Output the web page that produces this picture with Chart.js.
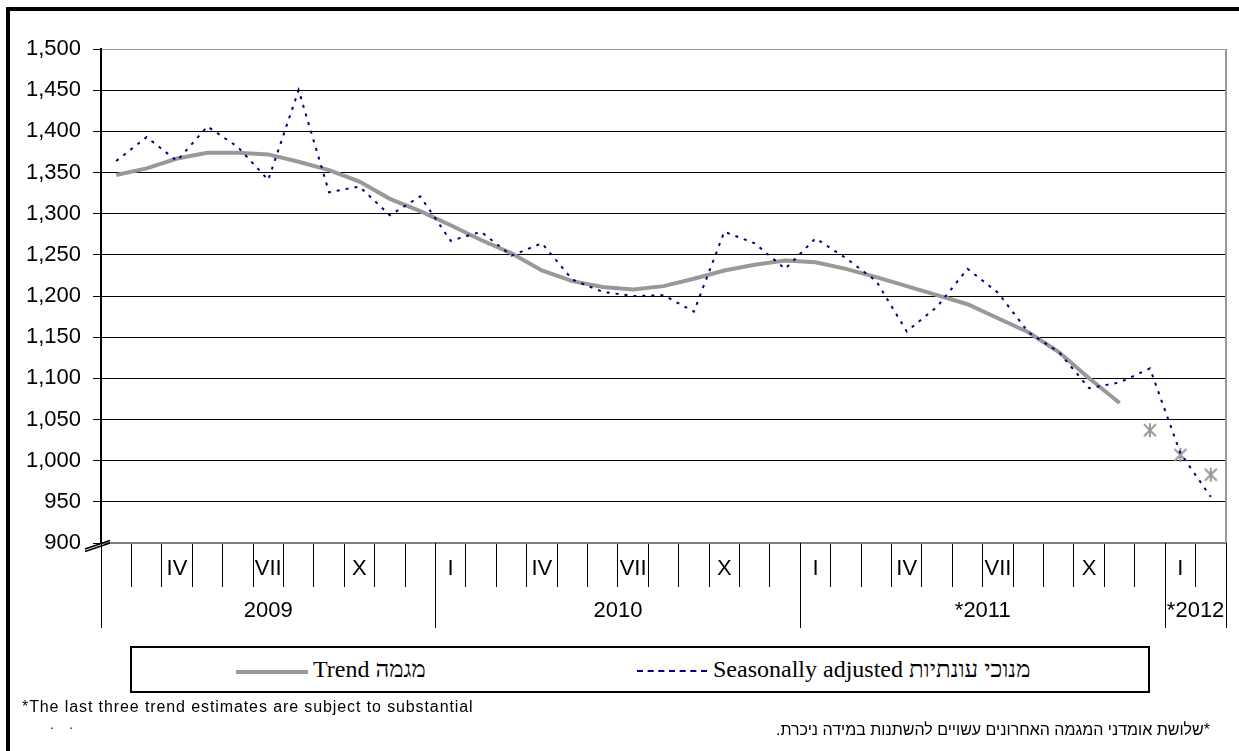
<!DOCTYPE html>
<html>
<head>
<meta charset="utf-8">
<script src="https://cdn.jsdelivr.net/npm/chart.js@4"></script>
<style>
  html, body { margin: 0; padding: 0; background: #fff; overflow: hidden; }
  #wrap { position: relative; width: 1239px; height: 751px; }
  #frame { position: absolute; left: 6px; top: 7px; width: 1300px; height: 800px; border: 4px solid #000; box-sizing: border-box; pointer-events: none; }
  #legend { position: absolute; left: 130px; top: 646px; width: 1020px; height: 47px; border: 2px solid #000; box-sizing: border-box; background: #fff; }
  #legend .sample { position: absolute; top: 22px; height: 0; }
  #legend .text { position: absolute; top: 0; line-height: 43px; font-family: "Liberation Serif", "Times New Roman", serif; font-size: 24px; color: #000; white-space: nowrap; }
  .note { position: absolute; font-family: "Liberation Sans", Arial, sans-serif; color: #000; white-space: nowrap; }
</style>
</head>
<body>
<div id="wrap">
  <canvas id="chart"></canvas>
  <div id="frame"></div>
  <div id="legend">
    <div class="sample" style="left:104px; width:72px; border-top:4px solid #999;"></div>
    <div class="text" style="left:181px;">Trend מגמה</div>
    <div class="sample" style="left:505px; width:70px; border-top:2px dashed #000080;"></div>
    <div class="text" style="left:581px;">Seasonally adjusted מנוכי עונתיות</div>
  </div>
  <div class="note" style="left:22px; top:698px; font-size:16px; letter-spacing:0.9px;">*The last three trend estimates are subject to substantial</div>
  <div class="note" style="left:50px; top:717px; font-size:13px; letter-spacing:6px;">. .</div>
  <div class="note" style="right:29px; top:721px; font-size:16px; direction:rtl;">*שלושת אומדני המגמה האחרונים עשויים להשתנות במידה ניכרת.</div>
</div>
<script>
// months shown on the axis: Feb 2009 .. Feb 2012
const months = [
  'II', 'III', 'IV', 'V', 'VI', 'VII', 'VIII', 'IX', 'X', 'XI', 'XII',
  'I', 'II', 'III', 'IV', 'V', 'VI', 'VII', 'VIII', 'IX', 'X', 'XI', 'XII',
  'I', 'II', 'III', 'IV', 'V', 'VI', 'VII', 'VIII', 'IX', 'X', 'XI', 'XII',
  'I', 'II',
];
const shownMonths = ['I', 'IV', 'VII', 'X'];
const yearLabels = ['2009', '2010', '*2011', '*2012'];
const yearMonths = [11, 12, 12, 2];

const seasonal = [
  1364, 1393, 1364, 1406, 1381, 1341, 1450, 1326, 1333, 1298, 1321,
  1267, 1278, 1249, 1264, 1220, 1205, 1200, 1201, 1181, 1278, 1264, 1233,
  1270, 1246, 1218, 1157, 1187, 1233, 1204, 1156, 1132, 1088, 1095, 1112,
  1009, 956,
];
const trend = [
  1347, 1355, 1367, 1374, 1374, 1372, 1363, 1353, 1339, 1318, 1303,
  1286, 1268, 1252, 1231, 1218, 1211, 1208, 1212, 1221, 1231, 1238, 1243,
  1241, 1233, 1223, 1212, 1201, 1190, 1173, 1156, 1132, 1100, 1070,
];
// last three trend estimates (Dec 2011 - Feb 2012), drawn as markers only
const trendEstimates = [1037, 1007, 983];

// asterisk marker: an X with a vertical stroke
const asterisk = document.createElement('canvas');
asterisk.width = 16;
asterisk.height = 16;
(() => {
  const c = asterisk.getContext('2d');
  c.strokeStyle = '#999';
  c.lineWidth = 2;
  c.beginPath();
  c.moveTo(2, 2); c.lineTo(14, 14);
  c.moveTo(14, 2); c.lineTo(2, 14);
  c.moveTo(8, 1); c.lineTo(8, 15);
  c.stroke();
})();

const axisExtras = {
  id: 'axisExtras',
  afterDraw(chart) {
    const { ctx, chartArea: area, scales: { x } } = chart;
    const step = (x.right - x.left) / months.length;
    ctx.save();

    // right border of the plot
    ctx.strokeStyle = '#999';
    ctx.lineWidth = 2;
    ctx.beginPath();
    ctx.moveTo(area.right, area.top);
    ctx.lineTo(area.right, area.bottom);
    ctx.stroke();

    // year separators and year labels
    ctx.strokeStyle = '#000';
    ctx.lineWidth = 1;
    ctx.fillStyle = '#000';
    ctx.font = '22px Arial, "Liberation Sans", sans-serif';
    ctx.textAlign = 'center';
    ctx.textBaseline = 'middle';
    let start = 0;
    const edges = [0];
    yearMonths.forEach((n, i) => {
      const left = x.getPixelForValue(start) - step / 2;
      const right = x.getPixelForValue(start + n - 1) + step / 2;
      ctx.fillText(yearLabels[i], (left + right) / 2, area.bottom + 68);
      start += n;
      edges.push(start);
    });
    edges.forEach((i) => {
      const px = Math.round(i === months.length ? x.right : x.getPixelForValue(i) - step / 2) + 0.5;
      ctx.beginPath();
      ctx.moveTo(px, area.bottom);
      ctx.lineTo(px, area.bottom + 85);
      ctx.stroke();
    });

    // axis break mark
    ctx.lineWidth = 1.5;
    ctx.beginPath();
    ctx.moveTo(area.left - 16, area.bottom + 6);
    ctx.lineTo(area.left + 9, area.bottom - 2.5);
    ctx.moveTo(area.left - 16, area.bottom + 8.5);
    ctx.lineTo(area.left + 9, area.bottom);
    ctx.stroke();
    ctx.restore();
  },
};

const ctx = document.getElementById('chart').getContext('2d');
new Chart(ctx, {
  type: 'line',
  data: {
    labels: months,
    datasets: [
      {
        label: 'Seasonally adjusted מנוכי עונתיות',
        data: seasonal,
        borderColor: '#000080',
        borderWidth: 2,
        borderDash: [3, 6],
        pointRadius: 0,
        tension: 0,
        fill: false,
      },
      {
        label: 'Trend מגמה',
        data: trend,
        borderColor: '#999',
        borderWidth: 4,
        pointRadius: 0,
        tension: 0,
        fill: false,
      },
      {
        label: 'Trend estimates',
        data: Array(trend.length).fill(null).concat(trendEstimates),
        showLine: false,
        pointStyle: asterisk,
        pointRadius: 8,
        borderColor: '#999',
      },
    ],
  },
  options: {
    responsive: true,
    maintainAspectRatio: false,
    animation: false,
    layout: { padding: { top: 49, right: 13, bottom: 108, left: 0 } },
    plugins: {
      legend: { display: false },
      tooltip: { enabled: false },
    },
    scales: {
      x: {
        offset: true,
        ticks: {
          autoSkip: false,
          maxRotation: 0,
          color: '#000',
          font: { family: 'Arial, "Liberation Sans", sans-serif', size: 22 },
          padding: -31,
          callback: (v, i) => (shownMonths.includes(months[i]) ? months[i] : ''),
        },
        grid: { offset: true, drawOnChartArea: false, tickLength: 44, color: '#000', lineWidth: 1 },
        border: { color: '#808080', width: 2 },
        afterFit: (s) => { s.height = 100; },
      },
      y: {
        min: 900,
        max: 1500,
        ticks: {
          stepSize: 50,
          color: '#000',
          font: { family: 'Arial, "Liberation Sans", sans-serif', size: 22 },
          padding: 12,
        },
        grid: {
          color: (c) => (c.tick && c.tick.value === 1500 ? '#999' : '#000'),
          tickColor: '#000',
          tickLength: 8,
          lineWidth: 1,
        },
        border: { color: '#000', width: 2 },
        afterFit: (s) => { s.width = 101; },
      },
    },
  },
  plugins: [axisExtras],
});
</script>
</body>
</html>
